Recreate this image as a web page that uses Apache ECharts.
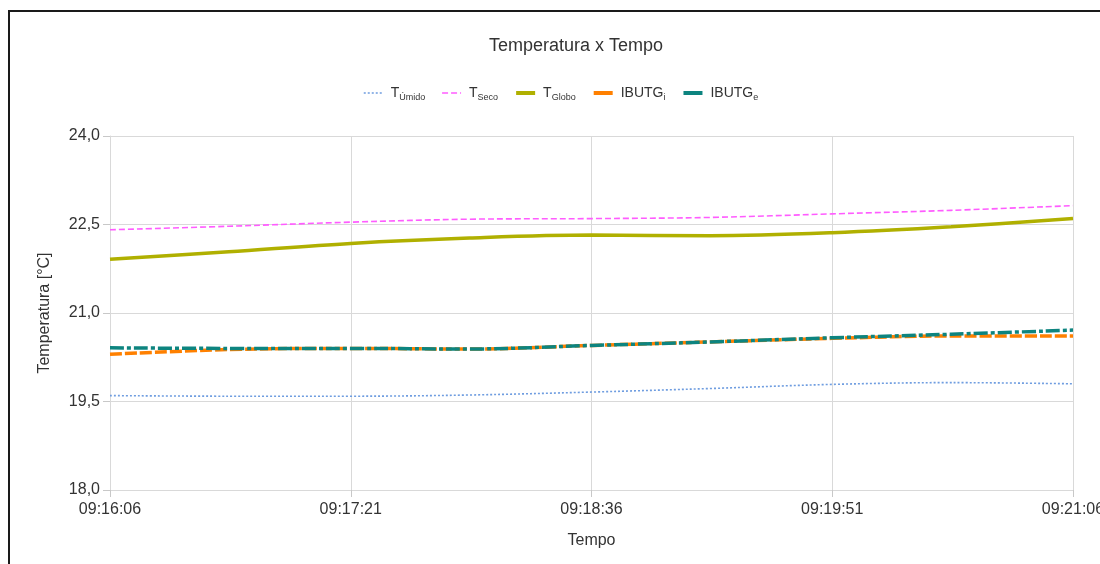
<!DOCTYPE html>
<html>
<head>
<meta charset="utf-8">
<script src="https://cdn.jsdelivr.net/npm/echarts@6/dist/echarts.min.js"></script>
<style>
  html, body { margin: 0; padding: 0; background: #fff; overflow: hidden; }
  #chart { width: 1100px; height: 564px; }
  #frame { position: absolute; left: 8px; top: 10px; width: 1200px; height: 700px;
           border-top: 2px solid #1a1a1a; border-left: 2px solid #1a1a1a; pointer-events: none; }
</style>
</head>
<body>
<div id="chart"></div>
<div id="frame"></div>
<script>
// ---- data ----
const times = ['09:16:06','09:16:43','09:17:21','09:17:58','09:18:36','09:19:13','09:19:51','09:20:28','09:21:06'];
const tickLabels = ['09:16:06','09:17:21','09:18:36','09:19:51','09:21:06'];
const seriesNames = ['T_Úmido','T_Seco','T_Globo','IBUTG_i','IBUTG_e'];
const tUmido = [19.60, 19.59, 19.59, 19.61, 19.66, 19.72, 19.79, 19.82, 19.80];
const tSeco  = [22.41, 22.47, 22.54, 22.59, 22.60, 22.62, 22.68, 22.74, 22.82];
const tGlobo = [21.91, 22.04, 22.18, 22.27, 22.32, 22.31, 22.36, 22.46, 22.60];
const ibutgI = [20.30, 20.38, 20.40, 20.39, 20.45, 20.51, 20.57, 20.61, 20.61];
const ibutgE = [20.41, 20.40, 20.40, 20.39, 20.45, 20.51, 20.58, 20.64, 20.71];
const yTicks = [18.0, 19.5, 21.0, 22.5, 24.0];

// ---- helpers ----
function toSec(s) { const p = s.split(':').map(Number); return p[0]*3600 + p[1]*60 + p[2]; }
const t0 = toSec(times[0]);
const xs = times.map(t => toSec(t) - t0);
const tickSecs = tickLabels.map(t => toSec(t) - t0);
function pairs(vals) { return vals.map((v, i) => [xs[i], v]); }

const FONT = 'Liberation Sans';
const TXT = '#333333';
const colors = ['#6f9de0', '#ff5cff', '#b0b000', '#ff8000', '#0d847f'];

function mkSeries(name, data, color, width, dash) {
  return {
    name: name, type: 'line', data: pairs(data), smooth: 0.35,
    symbol: 'none', showSymbol: false,
    lineStyle: { color: color, width: width, type: dash, cap: 'butt' },
    itemStyle: { color: color },
    emphasis: { disabled: true },
    animation: false
  };
}

const legendData = seriesNames.map((n, i) => ({
  name: n,
  itemStyle: { opacity: 0 },
  lineStyle: i < 2
    ? { color: colors[i], width: 1.5, type: i === 0 ? [2, 2] : [6, 3] }
    : { color: colors[i], width: 4, type: 'solid' }
}));

const chart = echarts.init(document.getElementById('chart'), null, { renderer: 'canvas' });
chart.setOption({
  backgroundColor: '#ffffff',
  animation: false,
  title: {
    text: 'Temperatura x Tempo',
    left: 571, top: 32, textAlign: 'center',
    textStyle: { fontFamily: FONT, fontSize: 18, fontWeight: 'normal', color: TXT }
  },
  legend: {
    left: 358, top: 81,
    itemWidth: 19, itemHeight: 14, itemGap: 16,
    itemStyle: { opacity: 0 },
    data: legendData,
    formatter: function (name) {
      const p = name.split('_');
      return '{a|' + p[0] + '}{s|' + p[1] + '}';
    },
    textStyle: {
      fontFamily: FONT, color: TXT, padding: [0, 0, 0, 3],
      rich: {
        a: { fontFamily: FONT, fontSize: 14, color: TXT, lineHeight: 18, verticalAlign: 'middle' },
        s: { fontFamily: FONT, fontSize: 9, color: TXT, lineHeight: 18, verticalAlign: 'bottom', padding: [6, 0, 0, 0] }
      }
    }
  },
  grid: { left: 110, right: 27, top: 136, bottom: 74, containLabel: false, outerBoundsMode: 'none' },
  xAxis: {
    type: 'value', min: tickSecs[0], max: tickSecs[tickSecs.length - 1], interval: tickSecs[1] - tickSecs[0],
    name: 'Tempo', nameLocation: 'middle', nameGap: 43,
    nameTextStyle: { fontFamily: FONT, fontSize: 16, color: TXT },
    axisLine: { show: true, lineStyle: { color: '#d9d9d9', width: 1 } },
    axisTick: { show: true, length: 7, lineStyle: { color: '#c8c8c8' } },
    axisLabel: {
      margin: 12, fontFamily: FONT, fontSize: 16, color: TXT,
      showMinLabel: true, showMaxLabel: true, hideOverlap: false,
      formatter: function (v) { const i = tickSecs.indexOf(Math.round(v)); return i >= 0 ? tickLabels[i] : ''; }
    },
    splitLine: { show: true, lineStyle: { color: '#d9d9d9', width: 1 } }
  },
  yAxis: {
    type: 'value', min: yTicks[0], max: yTicks[yTicks.length - 1], interval: yTicks[1] - yTicks[0],
    name: 'Temperatura [°C]', nameLocation: 'middle', nameGap: 57, nameRotate: 90,
    nameTextStyle: { fontFamily: FONT, fontSize: 16, color: TXT },
    axisLine: { show: true, lineStyle: { color: '#d9d9d9', width: 1 } },
    axisTick: { show: true, length: 7, lineStyle: { color: '#c8c8c8' } },
    axisLabel: {
      margin: 10, fontFamily: FONT, fontSize: 16, color: TXT,
      formatter: function (v) { return v.toFixed(1).replace('.', ','); }
    },
    splitLine: { show: true, lineStyle: { color: '#d9d9d9', width: 1 } }
  },
  series: [
    mkSeries(seriesNames[0], tUmido, colors[0], 1.6, [2, 2]),
    mkSeries(seriesNames[1], tSeco, colors[1], 1.6, [6, 3]),
    mkSeries(seriesNames[2], tGlobo, colors[2], 3.5, 'solid'),
    mkSeries(seriesNames[3], ibutgI, colors[3], 3.5, [12, 3]),
    mkSeries(seriesNames[4], ibutgE, colors[4], 3.5, [14, 3, 4, 3])
  ]
});
</script>
</body>
</html>
